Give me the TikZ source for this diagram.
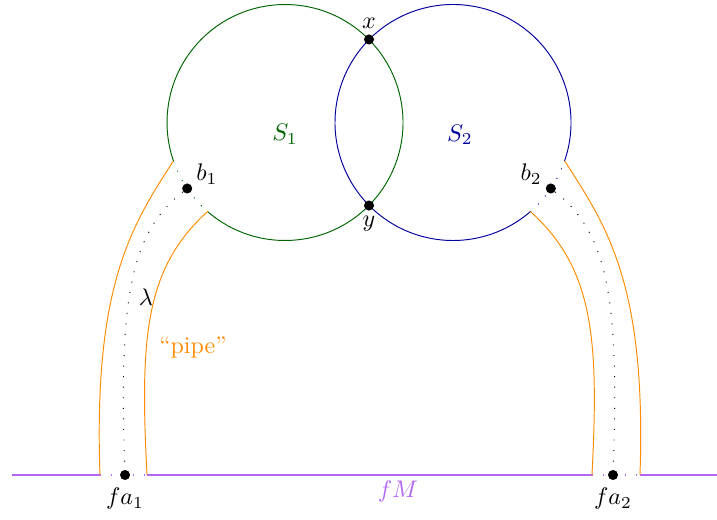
\documentclass[tikz,border=0pt]{standalone}
\usepackage{amsmath,amssymb}
\usepackage{xcolor}
\usepackage{tikz}
\usetikzlibrary{positioning,calc}
\definecolor{sone}{HTML}{006400}
\definecolor{stwo}{HTML}{00009C}
\definecolor{pipecol}{HTML}{FF8C00}
\definecolor{fmcol}{HTML}{B266F5}

\begin{document}
\begin{tikzpicture}[
  font=\normalsize,
  every node/.style={inner sep=2pt},
  pt/.style={circle,fill=black,inner sep=0pt,minimum size=4.2pt},
  sphereA/.style={draw=sone,thin},
  sphereB/.style={draw=stwo,thin},
  tube/.style={draw=pipecol,thin},
  base/.style={draw=fmcol,line width=0.55pt},
  gap/.style={loosely dotted},
  lam/.style={draw=black,loosely dotted},
  drop/.style={out looseness=0.62,in looseness=1.5},
  dropin/.style={out looseness=0.8,in looseness=1.3}
]
\useasboundingbox (0,0) rectangle (10.5,7.615);
\def\R{1.728}
% spheres
\coordinate (c1) at (4.174,5.821);
\coordinate (c2) at (6.634,5.821);
\coordinate (p1o) at ($(c1)+(199:\R)$);
\coordinate (p1i) at ($(c1)+(229:\R)$);
\coordinate (p2o) at ($(c2)+(-19:\R)$);
\coordinate (p2i) at ($(c2)+(-49:\R)$);
\draw[sphereA] (p1i) arc[start angle=229,end angle=559,radius=\R];
\draw[sphereA,gap] (p1o) arc[start angle=199,end angle=229,radius=\R];
\draw[sphereB] (p2o) arc[start angle=-19,end angle=311,radius=\R];
\draw[sphereB,gap] (p2i) arc[start angle=-49,end angle=-19,radius=\R];
\node[sone] (s1) at (4.174,5.652) {$S_1$};
\node[stwo] (s2) at (6.736,5.638) {$S_2$};

% intersection points
\node[pt] (x) at (5.404,7.037) {};
\node[pt] (y) at (5.404,4.605) {};
\node[above=0pt of x] (xl) {$x$};
\node[below=0pt of y] (yl) {$y$};

% base line fM
\coordinate (m0) at (0.176,0.659);
\coordinate (q1o) at (1.464,0.659);
\coordinate (q1i) at (2.153,0.659);
\coordinate (q2i) at (8.669,0.659);
\coordinate (q2o) at (9.372,0.659);
\coordinate (m1) at (10.5,0.659);
\draw[base] (m0) -- (q1o);
\draw[base,gap] (q1o) -- (q1i);
\draw[base] (q1i) -- (q2i);
\draw[base,gap] (q2i) -- (q2o);
\draw[base] (q2o) -- (m1);
\node[text=fmcol] (fm) at (5.829,0.41) {$fM$};

% base points
\node[pt] (b1) at ($(c1)+(214:\R)$) {};
\node[pt] (b2) at ($(c2)+(-34:\R)$) {};
\node[pt] (fa1) at (1.831,0.659) {};
\node[pt] (fa2) at (8.977,0.659) {};
\node[above right=-2pt and 0pt of b1] {$b_1$};
\node[above left=-2pt and 0pt of b2] {$b_2$};
\node[below=1pt of fa1] {$fa_1$};
\node[below=1pt of fa2] {$fa_2$};

% pipes
\draw[tube] (p1o) to[drop,out=237,in=92] (q1o);
\draw[tube] (p1i) to[dropin,out=222,in=93] (q1i);
\draw[tube] (p2o) to[drop,out=-57,in=88] (q2o);
\draw[tube] (p2i) to[dropin,out=-42,in=87] (q2i);
\draw[lam] (b1) to[drop,out=218,in=92] (fa1);
\draw[lam] (b2) to[drop,out=-38,in=88] (fa2);
\node (l) at (2.138,3.266) {$\lambda$};
\node[text=pipecol] (pl) at (2.826,2.519) {``pipe''};
\end{tikzpicture}
\end{document}
